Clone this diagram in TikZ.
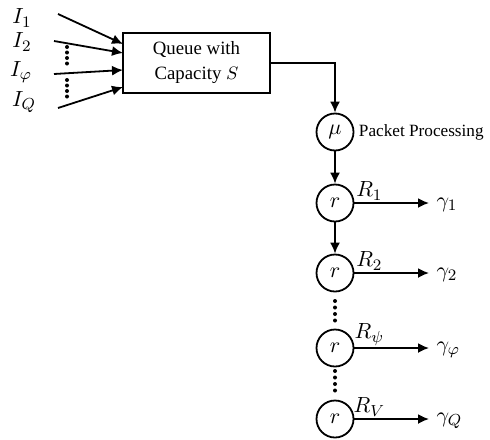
\documentclass[tikz,border=0pt]{standalone}
\usepackage{fontspec}
\setmainfont{Liberation Serif}
\usetikzlibrary{arrows.meta,positioning}
\begin{document}
\begin{tikzpicture}[x=0.5pt,y=-0.5pt,font=\fontsize{9.4}{12.5}\selectfont,
    line width=0.9pt,>={Latex[length=5.5pt,width=5pt]},
    m/.style={font=\fontsize{11}{13}\selectfont},
    srv/.style={draw,circle,minimum size=18.5pt,inner sep=0pt,m}]
\useasboundingbox (0,0) rectangle (490,439);
\node[m] (i1) at (22,18) {$I_1$};
\node[m] (i2) at (22,42) {$I_2$};
\node[m] (iphi) at (21,72) {$I_\varphi$};
\node[m] (iq) at (24,102) {$I_Q$};
\node[draw,minimum width=73.5pt,minimum height=30pt,align=center] (queue)
    at (196.5,63) {Queue with\\Capacity $S$};
\coordinate (s1) at (58,14);  \coordinate (e1) at (123,44);
\coordinate (s2) at (54,41);  \coordinate (e2) at (123,53);
\coordinate (s3) at (54,74);  \coordinate (e3) at (123,70);
\coordinate (s4) at (58,108); \coordinate (e4) at (123,87);
\foreach \k in {1,...,4} \draw[->] (s\k) -- (e\k);
\foreach \y in {47,52.5,58,63.5,80,85.5,91,96.5} \fill (67,\y) circle (1pt);
\node[srv] (mu) at (335,132) {$\mu$};
\node[right=-1.5pt of mu,font=\fontsize{8.6}{10}\selectfont] (pp) {Packet Processing};
\draw[->] (queue.east) -| (mu.north);
\node[srv] (r1) at (335,203) {$r$};
\node[srv] (r2) at (335,273) {$r$};
\node[srv] (r3) at (335,348) {$r$};
\node[srv] (r4) at (335,419) {$r$};
\draw[->] (mu) -- (r1);
\draw[->] (r1) -- (r2);
\foreach \y in {301,307.5,314,320.5,371,377.5,384,390.5} \fill (335,\y) circle (1pt);
\node[anchor=west,m] (g1) at (429,205) {$\gamma_1$};
\node[anchor=west,m] (g2) at (429,275) {$\gamma_2$};
\node[anchor=west,m] (g3) at (429,350) {$\gamma_\varphi$};
\node[anchor=west,m] (g4) at (429,421) {$\gamma_Q$};
\draw[->] (r1) -- node[above,pos=0.2,inner sep=1pt,m] {$R_1$} (r1 -| g1.west);
\draw[->] (r2) -- node[above,pos=0.2,inner sep=1pt,m] {$R_2$} (r2 -| g2.west);
\draw[->] (r3) -- node[above,pos=0.2,inner sep=1pt,m] {$R_\psi$} (r3 -| g3.west);
\draw[->] (r4) -- node[above,pos=0.2,inner sep=1pt,m] {$R_V$} (r4 -| g4.west);
\end{tikzpicture}
\end{document}
